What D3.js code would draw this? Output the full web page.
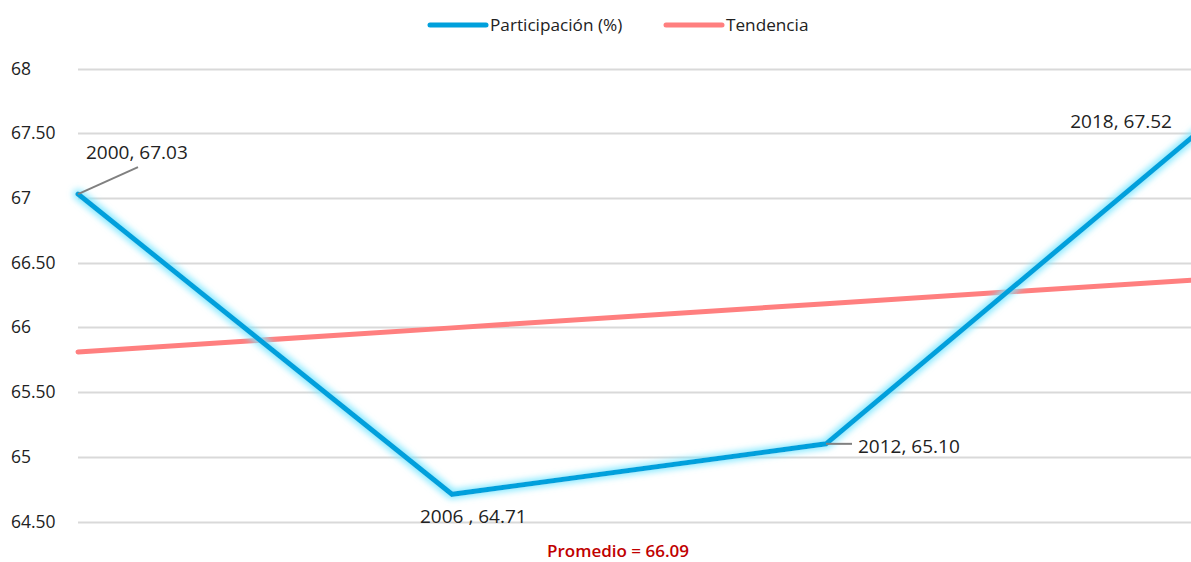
<!DOCTYPE html>
<html>
<head>
<meta charset="utf-8">
<script src="https://cdn.jsdelivr.net/npm/d3@7"></script>
<style>
  html, body { margin: 0; padding: 0; background: #fff; overflow: hidden; }
  svg { display: block; font-family: "Open Sans", "Noto Sans", sans-serif; }
</style>
</head>
<body>
<svg id="chart" width="1191" height="562"></svg>
<script>
// ---- data ----
const years = [2000, 2006, 2012, 2018];
const participacion = [67.03, 64.71, 65.10, 67.52];
const tendencia = [65.81, 65.996, 66.183, 66.369];
const yTicks = [64.5, 65, 65.5, 66, 66.5, 67, 67.5, 68];
const yTickLabels = ["64.50", "65", "65.50", "66", "66.50", "67", "67.50", "68"];
const pointLabels = ["2000, 67.03", "2006 , 64.71", "2012, 65.10", "2018, 67.52"];
const seriesNames = ["Participación (%)", "Tendencia"];
const promedioText = "Promedio = 66.09";

// ---- layout ----
const svg = d3.select("#chart");
const blue = "#00A0DC", pink = "#FF7F7F";

const x = d3.scalePoint().domain(years).range([78, 1200]);
const y = d3.scaleLinear().domain([64.5, 68]).range([521.5, 68.5]);

const defs = svg.append("defs");
const glow = defs.append("filter").attr("id", "glow")
  .attr("x", "-10%").attr("y", "-10%").attr("width", "120%").attr("height", "120%");
glow.append("feMorphology").attr("in", "SourceAlpha").attr("operator", "dilate").attr("radius", 2).attr("result", "dil");
glow.append("feGaussianBlur").attr("in", "dil").attr("stdDeviation", 3).attr("result", "blur");
glow.append("feFlood").attr("flood-color", "#7FE8FF").attr("flood-opacity", 0.9);
glow.append("feComposite").attr("in2", "blur").attr("operator", "in").attr("result", "glowc");
const merge = glow.append("feMerge");
merge.append("feMergeNode").attr("in", "glowc");
merge.append("feMergeNode").attr("in", "SourceGraphic");

// gridlines
svg.append("g").selectAll("line").data(yTicks).join("line")
  .attr("x1", 78).attr("x2", 1191)
  .attr("y1", d => Math.round(y(d)) + 0.5).attr("y2", d => Math.round(y(d)) + 0.5)
  .attr("stroke", "#d9d9d9").attr("stroke-width", 2);

// y labels
svg.append("g").selectAll("text").data(yTicks).join("text")
  .attr("x", 11).attr("y", d => y(d)).attr("dy", "0.35em")
  .attr("font-size", 17.5).attr("fill", "#222")
  .text((d, i) => yTickLabels[i]);

// trend line
const line = d3.line().x((d, i) => x(years[i])).y(d => y(d));
svg.append("path").datum(tendencia).attr("d", line)
  .attr("fill", "none").attr("stroke", pink).attr("stroke-width", 5)
  .attr("stroke-linecap", "round");

// main line with glow
svg.append("path").datum(participacion).attr("d", line)
  .attr("fill", "none").attr("stroke", blue).attr("stroke-width", 5)
  .attr("stroke-linejoin", "miter").attr("stroke-linecap", "round")
  .attr("filter", "url(#glow)");

// leader lines
const leaders = [
  { i: 0, dx: 60, dy: -27 },
  { i: 2, dx: 26, dy: 0 }
];
svg.append("g").selectAll("line").data(leaders).join("line")
  .attr("x1", d => x(years[d.i])).attr("y1", d => y(participacion[d.i]))
  .attr("x2", d => x(years[d.i]) + d.dx).attr("y2", d => y(participacion[d.i]) + d.dy)
  .attr("stroke", "#808080").attr("stroke-width", 2);

// point labels
const labelOffsets = [
  { dx: 8, dy: -35, anchor: "start" },
  { dx: -32, dy: 29, anchor: "start" },
  { dx: 32, dy: 9, anchor: "start" },
  { dx: -28, dy: -3, anchor: "end" }
];
svg.append("g").selectAll("text").data(participacion).join("text")
  .attr("x", (d, i) => x(years[i]) + labelOffsets[i].dx)
  .attr("y", (d, i) => y(d) + labelOffsets[i].dy)
  .attr("text-anchor", (d, i) => labelOffsets[i].anchor)
  .attr("font-size", 19).attr("fill", "#222")
  .text((d, i) => pointLabels[i]);

// legend
const legend = svg.append("g");
const legItems = [
  { name: seriesNames[0], color: blue, x: 430 },
  { name: seriesNames[1], color: pink, x: 666 }
];
legItems.forEach(it => {
  legend.append("line").attr("x1", it.x).attr("x2", it.x + 56)
    .attr("y1", 25).attr("y2", 25)
    .attr("stroke", it.color).attr("stroke-width", 5).attr("stroke-linecap", "round");
  legend.append("text").attr("x", it.x + 60).attr("y", 25).attr("dy", "0.35em")
    .attr("font-size", 17.2).attr("fill", "#222").text(it.name);
});

// promedio
svg.append("text").attr("x", 618).attr("y", 551).attr("dy", "0.35em")
  .attr("text-anchor", "middle").attr("font-size", 17).attr("font-weight", 600)
  .attr("fill", "#C00000")
  .text(promedioText);
</script>
</body>
</html>
